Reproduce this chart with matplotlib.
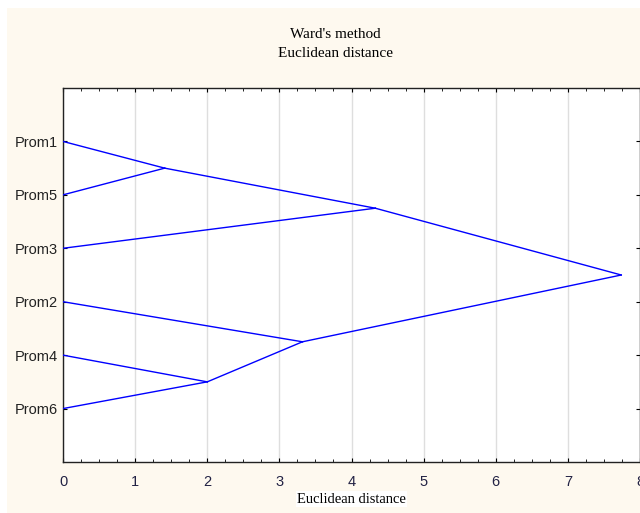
import matplotlib.pyplot as plt
from matplotlib.patches import Rectangle
from matplotlib.ticker import MultipleLocator

# leaves, top to bottom
leaves = ["Prom1", "Prom5", "Prom3", "Prom2", "Prom4", "Prom6"]
# merges: (left member, right member, linkage distance)
merges = [
    ("Prom1", "Prom5", 1.41),
    ("Prom4", "Prom6", 2.00),
    ("Prom2", "C2", 3.32),
    ("C1", "Prom3", 4.33),
    ("C4", "C3", 7.74),
]
x_ticks = [0, 1, 2, 3, 4, 5, 6, 7, 8]

W, H = 640, 513
fig = plt.figure(figsize=(W / 100, H / 100), dpi=100, facecolor="white")
fig.patches.append(Rectangle((7 / W, 0), 1, 1 - 8 / H, transform=fig.transFigure,
                             facecolor="#fef9ef", edgecolor="none", zorder=-10))

ax = fig.add_axes([63 / W, 1 - 462 / H, (640 - 63) / W, (462 - 88) / H])
ax.set_facecolor("white")

# node positions
pos = {name: (0.0, i + 1) for i, name in enumerate(leaves)}
for i, (a, b, d) in enumerate(merges):
    ya, yb = pos[a][1], pos[b][1]
    node = (d, (ya + yb) / 2)
    for child in (a, b):
        cx, cy = pos[child]
        ax.plot([cx, node[0]], [cy, node[1]], color="#0000ff", lw=1.0, zorder=3)
    pos[f"C{i + 1}"] = node

ax.set_xlim(0, 8)
ax.set_ylim(7, 0)
ax.set_xticks(x_ticks)
ax.xaxis.set_minor_locator(MultipleLocator(0.25))
ax.set_yticks(range(1, len(leaves) + 1))
ax.set_yticklabels(leaves)
ax.grid(axis="x", which="major", color="#dedede", lw=1.0, zorder=0)

tick_font = {"family": ["Liberation Sans Narrow", "Liberation Sans", "DejaVu Sans"], "size": 10.5}
for lab in ax.get_xticklabels():
    lab.set_fontproperties(tick_font)
    lab.set_color("#222244")
for lab in ax.get_yticklabels():
    lab.set_fontproperties({"family": ["Liberation Sans", "DejaVu Sans"], "size": 10.5})
    lab.set_color("#222222")

ax.tick_params(axis="x", which="major", direction="in", length=3, top=True, pad=9)
ax.tick_params(axis="x", which="minor", direction="in", length=2, top=True)
ax.tick_params(axis="y", direction="in", length=3, right=True, pad=4)
for s in ax.spines.values():
    s.set_color("#222222")
    s.set_linewidth(1.0)

ax.set_xlabel("Euclidean distance", family="Liberation Serif", fontsize=10.5, labelpad=3,
              bbox=dict(facecolor="white", edgecolor="none", pad=1))

fig.text(335 / W, 1 - 44 / H, "Ward's method\nEuclidean distance", family="Liberation Serif",
         fontsize=11, ha="center", va="center", linespacing=1.65)

fig.savefig("out.png", dpi=100, facecolor=fig.get_facecolor())
